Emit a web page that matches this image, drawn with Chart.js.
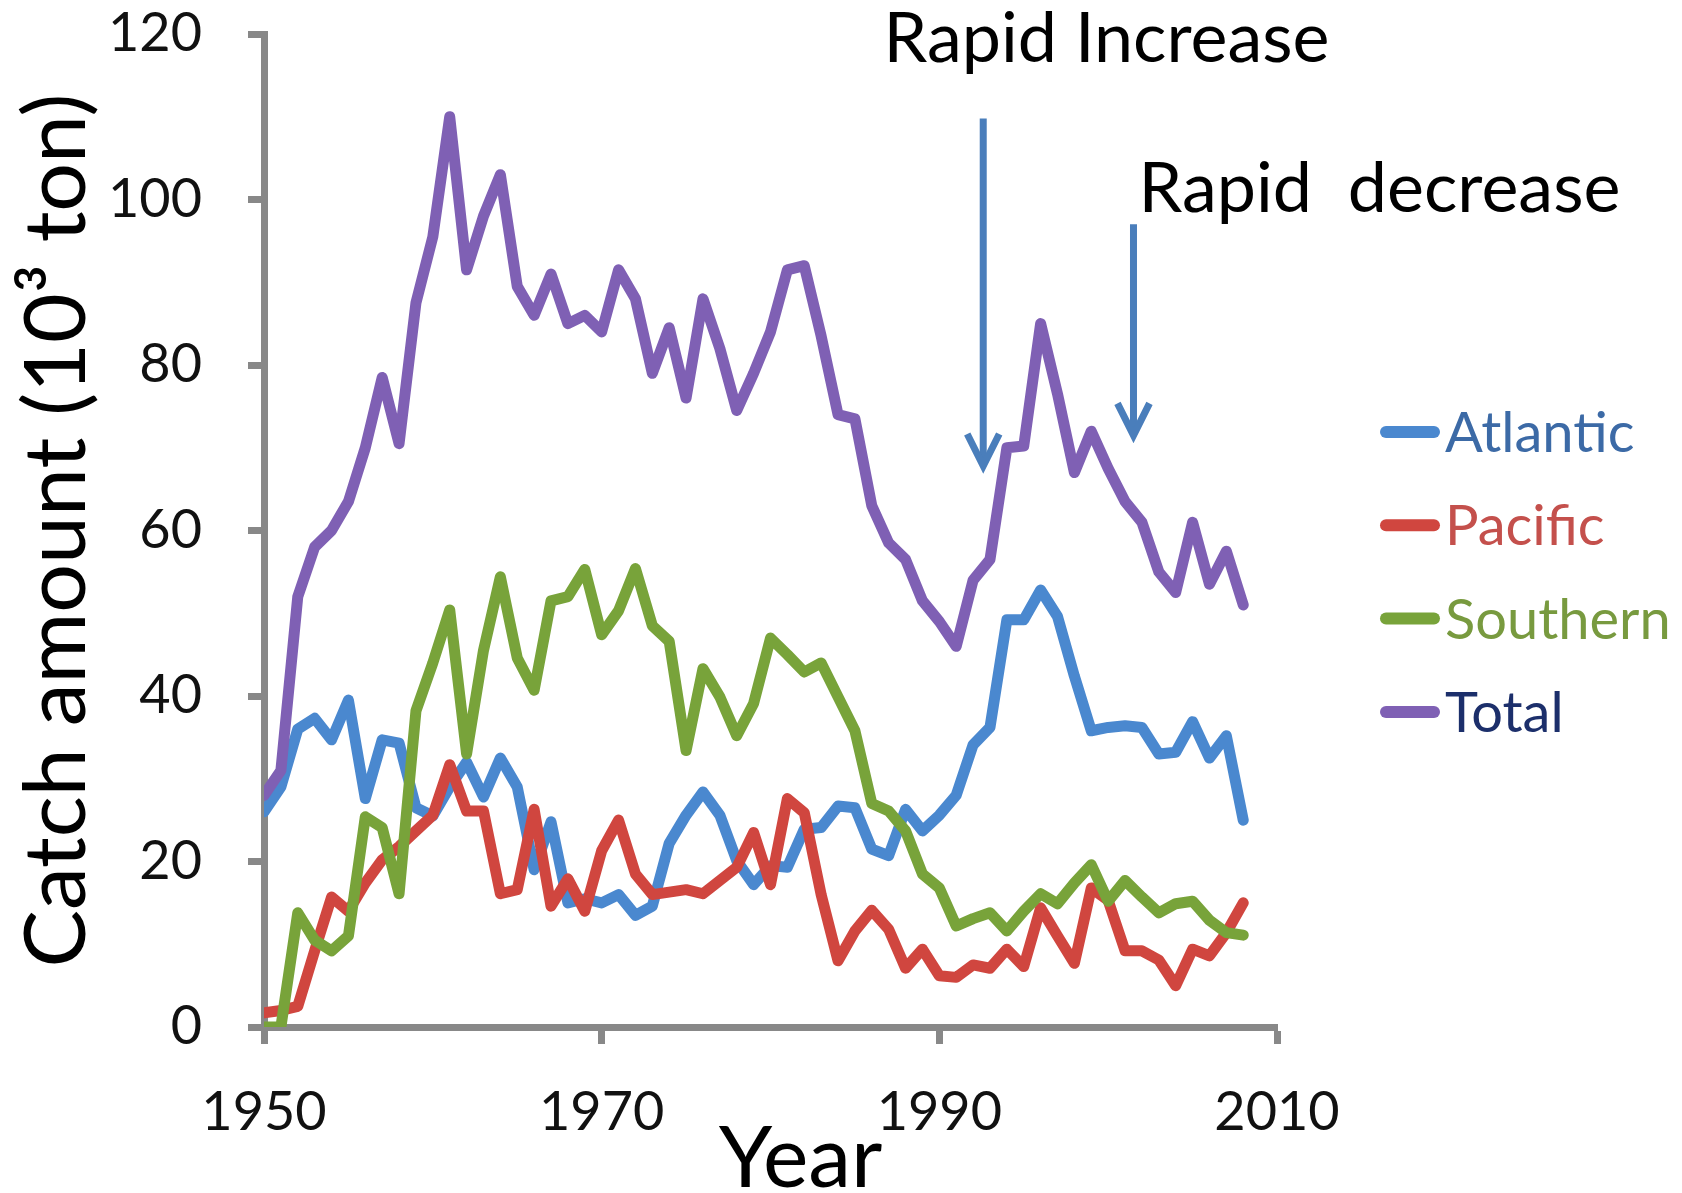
<!DOCTYPE html>
<html>
<head>
<meta charset="utf-8">
<script src="https://cdn.jsdelivr.net/npm/chart.js@4.4.0/dist/chart.umd.min.js"></script>
<style>
  html, body { margin: 0; padding: 0; background: #fff; }
  #wrap { width: 1682px; height: 1193px; position: relative; }
</style>
</head>
<body>
<div id="wrap"><canvas id="chart"></canvas></div>
<script>
// catch per year, 10^3 ton
const years = [1950,1951,1952,1953,1954,1955,1956,1957,1958,1959,
  1960,1961,1962,1963,1964,1965,1966,1967,1968,1969,
  1970,1971,1972,1973,1974,1975,1976,1977,1978,1979,
  1980,1981,1982,1983,1984,1985,1986,1987,1988,1989,
  1990,1991,1992,1993,1994,1995,1996,1997,1998,1999,
  2000,2001,2002,2003,2004,2005,2006,2007,2008];

const atlantic = [26,29,36,37.3,34.7,39.5,27.6,34.7,34.3,26.5,
  25.5,29,32,27.8,32.5,29,19,24.8,15,15.5,
  15,16,13.5,14.6,22.2,25.6,28.4,25.6,20.1,17.2,
  19.5,19.3,23.9,24.1,26.7,26.5,21.5,20.7,26.3,23.7,
  25.6,28,34.1,36.2,49.2,49.2,52.8,49.6,42.4,35.8,
  36.2,36.4,36.2,33,33.2,36.9,32.5,35.2,25];

const pacific = [1.7,2,2.5,9.2,15.7,14,17.4,20.2,21.8,23.7,
  25.6,31.7,26.1,26.1,16.1,16.6,26.3,14.6,17.9,14,
  21.3,25,18.5,16,16.3,16.6,16.1,17.7,19.3,23.5,
  17.2,27.6,25.9,16,8,11.6,14.1,11.8,7.1,9.4,
  6.2,6,7.5,7.1,9.4,7.3,14.4,11,7.7,16.8,
  15.3,9.2,9.2,8.1,5,9.4,8.6,11.4,15];

const southern = [0,0,13.8,10.5,9.2,11,25.4,24.1,16.1,38.2,
  44,50.4,33,45.5,54.4,44.6,40.7,51.5,52,55.3,
  47.4,50.3,55.4,48.5,46.6,33.4,43.3,39.9,35.2,39.1,
  47,45,42.9,44,39.9,35.8,27,26.1,23.7,18.5,
  16.8,12.2,13.1,13.8,11.6,14,16.1,14.9,17.4,19.6,
  15.2,17.7,15.7,13.8,14.9,15.2,12.9,11.4,11.1];

const total = [28,31,52,58,60,63.5,70,78.5,70.5,87.5,
  95.5,110,91.5,98,103,89.5,86,91,85,86,
  84,91.5,88,79,84.5,76,88,82,74.5,79,
  84,91.5,92,83.5,74,73.5,63,58.5,56.5,51.5,
  49,46,54,56.5,70,70.2,85,76.5,67,72,
  67.5,63.5,61,55,52.5,61,53.5,57.5,51];

const seriesNames = ['Atlantic', 'Pacific', 'Southern', 'Total'];
const seriesValues = [atlantic, pacific, southern, total];
const lineColors = ['#4a88cf', '#d0463f', '#78a33a', '#7f60b4'];
const textColors = ['#3c6aa6', '#c4504c', '#789a3f', '#1c2f6b'];

const xTicks = [1950, 1970, 1990, 2010];
const yTicks = [0, 20, 40, 60, 80, 100, 120];

// annotation arrows in data units: year, from value, to value
const arrows = [
  { year: 1992.6, from: 109.8, to: 67.8 },
  { year: 2001.5, from: 97, to: 71.5 }
];
const notes = [
  { text: 'Rapid Increase', year: 1986.7, value: 116.6 },
  { text: 'Rapid  decrease', year: 2001.8, value: 98.5 }
];

const AXIS = '#888888';

const extras = {
  id: 'extras',
  afterDraw(chart) {
    const { ctx, chartArea, scales: { x, y } } = chart;
    ctx.save();

    // arrows
    ctx.strokeStyle = '#4a7ebb';
    ctx.lineWidth = 7;
    ctx.lineJoin = 'miter';
    arrows.forEach(a => {
      const px = x.getPixelForValue(a.year);
      const top = y.getPixelForValue(a.from);
      const tip = y.getPixelForValue(a.to);
      ctx.beginPath();
      ctx.moveTo(px, top);
      ctx.lineTo(px, tip - 4);
      ctx.stroke();
      ctx.beginPath();
      ctx.moveTo(px - 16, tip - 32);
      ctx.lineTo(px, tip);
      ctx.lineTo(px + 16, tip - 32);
      ctx.stroke();
    });

    // notes
    ctx.fillStyle = '#000';
    ctx.font = '70px Lato';
    ctx.textAlign = 'left';
    ctx.textBaseline = 'alphabetic';
    notes.forEach(n => {
      ctx.fillText(n.text, x.getPixelForValue(n.year), y.getPixelForValue(n.value));
    });

    // x axis title
    ctx.font = '86px Lato';
    ctx.textAlign = 'center';
    ctx.fillText('Year', (chartArea.left + chartArea.right) / 2 + 30, 1187);

    // legend
    ctx.font = '56px Lato';
    ctx.textAlign = 'left';
    ctx.textBaseline = 'middle';
    ctx.lineCap = 'round';
    ctx.lineWidth = 12;
    seriesNames.forEach((name, i) => {
      const cy = 432 + i * 93.3;
      const lx = chartArea.right + 109;
      ctx.strokeStyle = lineColors[i];
      ctx.beginPath();
      ctx.moveTo(lx, cy);
      ctx.lineTo(lx + 48, cy);
      ctx.stroke();
      ctx.fillStyle = textColors[i];
      ctx.fillText(name, chartArea.right + 168, cy + 2);
    });

    ctx.restore();
  }
};

const datasets = seriesNames.map((name, i) => ({
  label: name,
  data: years.map((yr, k) => ({ x: yr, y: seriesValues[i][k] })),
  borderColor: lineColors[i],
  backgroundColor: lineColors[i],
  borderWidth: 11,
  borderJoinStyle: 'round',
  borderCapStyle: 'round',
  pointRadius: 0,
  tension: 0,
  fill: false,
  order: 4 - i
}));

new Chart(document.getElementById('chart'), {
  type: 'line',
  data: { datasets },
  options: {
    responsive: true,
    maintainAspectRatio: false,
    animation: false,
    devicePixelRatio: 1,
    layout: { padding: { top: 34, right: 405, bottom: 0, left: 0 } },
    plugins: { legend: { display: false }, tooltip: { enabled: false } },
    scales: {
      x: {
        type: 'linear',
        min: 1950,
        max: 2010,
        afterBuildTicks: s => { s.ticks = xTicks.map(v => ({ value: v })); },
        afterFit: s => { s.height = 166; s.paddingLeft = 0; s.paddingRight = 0; },
        ticks: {
          callback: v => String(v),
          font: { family: 'Lato', size: 54 },
          color: '#111',
          padding: 36,
          maxRotation: 0
        },
        grid: { drawOnChartArea: false, drawTicks: true, tickLength: 17, tickWidth: 7, tickColor: AXIS, color: AXIS },
        border: { display: true, color: AXIS, width: 7 }
      },
      y: {
        min: 0,
        max: 120,
        afterBuildTicks: s => { s.ticks = yTicks.map(v => ({ value: v })); },
        afterFit: s => { s.width = 264; s.paddingTop = 0; s.paddingBottom = 0; },
        ticks: {
          font: { family: 'Lato', size: 54 },
          color: '#111',
          padding: 46
        },
        grid: { drawOnChartArea: false, drawTicks: true, tickLength: 16, tickWidth: 7, tickColor: AXIS, color: AXIS },
        border: { display: true, color: AXIS, width: 7 },
        title: {
          display: true,
          text: 'Catch amount (10\u00b3 ton)',
          font: { family: 'Lato', size: 86 },
          color: '#000',
          padding: { top: 6, bottom: 0 }
        }
      }
    }
  },
  plugins: [extras]
});
</script>
</body>
</html>
